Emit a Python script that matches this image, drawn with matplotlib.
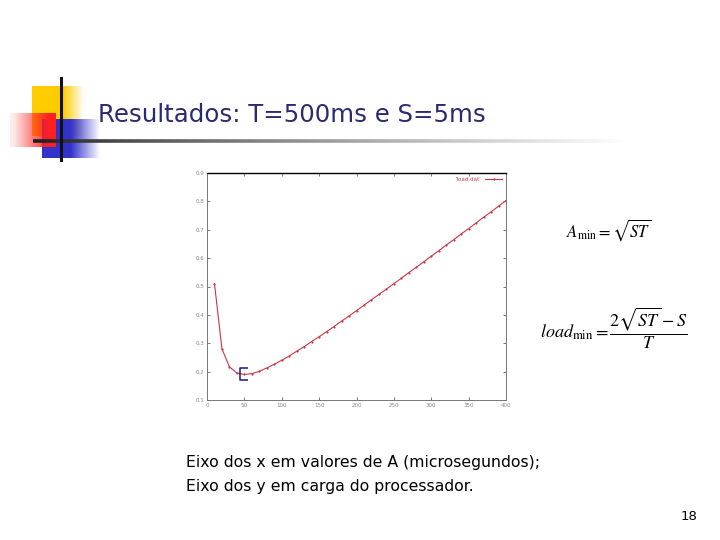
import numpy as np
import matplotlib
matplotlib.use("Agg")
import matplotlib.pyplot as plt
from matplotlib.path import Path

# ---- data ----
a_values = [10, 20, 30, 40, 50, 60, 70, 80, 90, 100, 110, 120, 130, 140, 150,
            160, 170, 180, 190, 200, 210, 220, 230, 240, 250, 260, 270, 280,
            290, 300, 310, 320, 330, 340, 350, 360, 370, 380, 390, 400]
load_values = [0.51, 0.28, 0.217, 0.195, 0.19, 0.193, 0.201, 0.213, 0.226, 0.24,
               0.255, 0.272, 0.288, 0.306, 0.323, 0.341, 0.359, 0.378, 0.396,
               0.415, 0.434, 0.453, 0.472, 0.491, 0.51, 0.529, 0.549, 0.568,
               0.587, 0.607, 0.626, 0.646, 0.665, 0.685, 0.704, 0.724, 0.744,
               0.763, 0.783, 0.803]
min_point_a = [50]
min_point_load = [0.19]
x_ticks = [0, 50, 100, 150, 200, 250, 300, 350, 400]
y_ticks = [0.1, 0.2, 0.3, 0.4, 0.5, 0.6, 0.7, 0.8, 0.9]
legend_label = "'load.dat'"
title_text = "Resultados: T=500ms e S=5ms"
caption_lines = ["Eixo dos x em valores de A (microsegundos);",
                 "Eixo dos y em carga do processador."]
page_number = "18"

W, H = 720, 540
fig = plt.figure(figsize=(W / 100, H / 100), dpi=100)
fig.patch.set_facecolor("white")

# ---- background decoration axes in pixel coordinates ----
bg = fig.add_axes([0, 0, 1, 1])
bg.set_xlim(0, W)
bg.set_ylim(H, 0)
bg.axis("off")

def grad_rect(x0, x1, y0, y1, color, solid_frac, reverse=False, z=1, floor=0.0):
    n = 256
    t = np.linspace(0, 1, n)
    alpha = np.where(t < solid_frac, 1.0, 1.0 - (t - solid_frac) / (1 - solid_frac))
    alpha = np.clip(alpha, floor, 1)
    if reverse:
        alpha = alpha[::-1]
    rgba = np.zeros((1, n, 4))
    rgba[..., :3] = matplotlib.colors.to_rgb(color)
    rgba[..., 3] = alpha
    bg.imshow(rgba, extent=(x0, x1, y1, y0), aspect="auto", zorder=z,
              interpolation="bilinear")

grad_rect(32, 84, 86, 136, "#ffcc00", 0.6, z=1)
grad_rect(42, 100, 119, 158, "#3333cc", 0.5, z=2)
grad_rect(10, 56, 113, 147, "#ff2020", 0.15, reverse=True, z=3, floor=0.08)

# vertical black line
bg.plot([61, 61], [78, 160], color="#111111", lw=2.2, zorder=5)
# horizontal gradient line
n = 400
xs = np.linspace(33, 670, n)
for i in range(n - 1):
    t = i / (n - 1)
    g = min(1.0, 0.1 + 0.95 * t ** 0.8)
    bg.plot(xs[i:i + 2], [141, 141], color=(g, g, g), lw=2.6,
            solid_capstyle="butt", zorder=4)

bg.text(98, 115, title_text, fontsize=17.6, color="#2a2a72",
        family="DejaVu Sans", va="center", ha="left", zorder=6)

bg.text(186, 463, caption_lines[0], fontsize=11.3, color="black",
        family="DejaVu Sans", va="center", ha="left")
bg.text(186, 486, caption_lines[1], fontsize=11.3, color="black",
        family="DejaVu Sans", va="center", ha="left")
bg.text(697, 516, page_number, fontsize=9.5, color="black",
        family="DejaVu Sans", va="center", ha="right")

plt.rcParams["mathtext.fontset"] = "stix"
bg.text(566, 230, r"$A_{\mathrm{min}} = \sqrt{ST}$", fontsize=12,
        va="center", ha="left", color="black")
bg.text(540, 328, r"$load_{\mathrm{min}} = \dfrac{2\sqrt{ST} - S}{T}$",
        fontsize=13, va="center", ha="left", color="black")

# ---- chart axes ----
ax = fig.add_axes([207 / W, 1 - 400 / H, (506 - 207) / W, (400 - 173) / H])
ax.set_xlim(0, 400)
ax.set_ylim(0.1, 0.9)
ax.plot(a_values, load_values, color="#c83848", lw=0.8, marker="o",
        markersize=1.6, markeredgewidth=0, label=legend_label)

bracket = Path([(0.7, 1), (-0.7, 1), (-0.7, -1), (0.7, -1)],
               [Path.MOVETO, Path.LINETO, Path.LINETO, Path.LINETO])
ax.plot(min_point_a, min_point_load, linestyle="none", marker=bracket,
        markersize=9, markerfacecolor="none", markeredgecolor="#1a1a80",
        markeredgewidth=1.1)

ax.set_xticks(x_ticks)
ax.set_yticks(y_ticks)
ax.set_xticklabels([str(v) for v in x_ticks])
ax.set_yticklabels([f"{v:.1f}" for v in y_ticks])
ax.tick_params(direction="in", top=True, right=True, length=2.5, width=0.5,
               labelsize=4, labelcolor="#888888", pad=2, color="#444444")
for side in ["left", "bottom", "right"]:
    ax.spines[side].set_color("#777777")
    ax.spines[side].set_linewidth(0.7)
ax.spines["top"].set_color("black")
ax.spines["top"].set_linewidth(1.0)

ax.legend(loc="upper right", frameon=False, fontsize=4, markerfirst=False,
          handlelength=3, borderaxespad=0.3, labelcolor="#c83848")

fig.savefig("out.png", dpi=100, facecolor="white")
